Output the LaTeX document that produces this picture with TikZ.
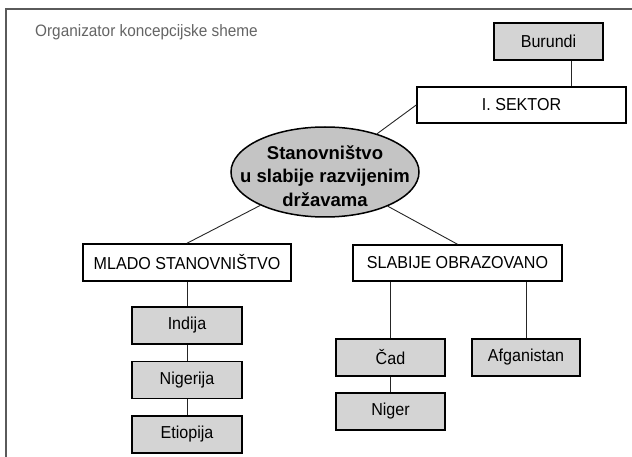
\documentclass[tikz,border=0pt]{standalone}
\usepackage{fontspec}
\setmainfont[FakeStretch=0.93]{Liberation Sans}
\newfontfamily\hubfont{Liberation Sans}
\usepackage{xcolor}
\definecolor{mapgray}{RGB}{212, 212, 212}
\definecolor{hubgray}{RGB}{196, 196, 196}
\definecolor{titlegray}{RGB}{100, 100, 100}
\definecolor{framegray}{RGB}{90, 90, 90}
\usepackage{tikz}
\usetikzlibrary{
    shapes.geometric,
    positioning,
    calc
}

\tikzset{
    topicbox/.style={draw, line width=1.5pt, fill=white, minimum width=209pt, minimum height=36pt,
        inner sep=0pt, font=\fontsize{17.3}{20}\selectfont},
    countrybox/.style={draw, line width=1.5pt, fill=mapgray, minimum width=109pt, minimum height=37pt,
        inner sep=0pt, font=\fontsize{17.3}{20}\selectfont},
    hub/.style={draw, ellipse, line width=1.5pt, fill=hubgray, minimum width=188pt, minimum height=90pt,
        inner sep=0pt},
    hubtext/.style={align=center, inner sep=0pt, font=\hubfont\fontsize{18.5}{23.5}\selectfont\bfseries},
    link/.style={draw=black!85, line width=0.9pt}
}

\begin{document}
\begin{tikzpicture}[x=1pt, y=-1pt]
    \useasboundingbox (0,0) rectangle (632,457);

    % frame and title
    \draw[framegray, line width=1.2pt] (632,9) -- (6,9) -- (6,457);
    \node[anchor=west, inner sep=0pt, text=titlegray, font=\fontsize{16.5}{19}\selectfont] (title) at (35,32)
        {Organizator koncepcijske sheme};

    % centre
    \node[hub] (hub) at (325,172) {};
    \node[hubtext] (hubtext) at (325,176) {Stanovništvo\\u slabije razvijenim\\državama};

    % first level
    \node[topicbox] (sektor) at (521.5,105) {I. SEKTOR};
    \node[topicbox, minimum width=208pt, minimum height=37pt] (mlado) at (187,262.5) {MLADO STANOVNIŠTVO};
    \node[topicbox] (slabije) at (457.5,263) {SLABIJE OBRAZOVANO};

    % countries
    \node[countrybox] (burundi) at (548.5,41.5) {Burundi};
    \node[countrybox, minimum width=110pt] (indija) at (187,325.5) {Indija};
    \node[countrybox, minimum width=110pt] (nigerija) at (187,380) {Nigerija};
    \node[countrybox, minimum width=110pt] (etiopija) at (187,434.5) {Etiopija};
    \node[countrybox] (cad) at (390.5,357.5) {Čad};
    \node[countrybox] (niger) at (390.5,411.5) {Niger};
    \node[countrybox, minimum width=108pt] (afganistan) at (526,357.5) {Afganistan};

    % links
    \draw[link] (hub) -- (sektor.west);
    \draw[link] (hub) -- (mlado.north);
    \draw[link] (hub) -- (slabije.north);
    \draw[link] ([xshift=22.5pt]burundi.south) -- ([xshift=22.5pt]burundi.south |- sektor.north);
    \draw[link] (mlado.south) -- (indija.north);
    \draw[link] (indija.south) -- (nigerija.north);
    \draw[link] (nigerija.south) -- (etiopija.north);
    \draw[link] (cad.north) -- (cad.north |- slabije.south);
    \draw[link] (afganistan.north) -- (afganistan.north |- slabije.south);
    \draw[link] (cad.south) -- (niger.north);
\end{tikzpicture}
\end{document}
